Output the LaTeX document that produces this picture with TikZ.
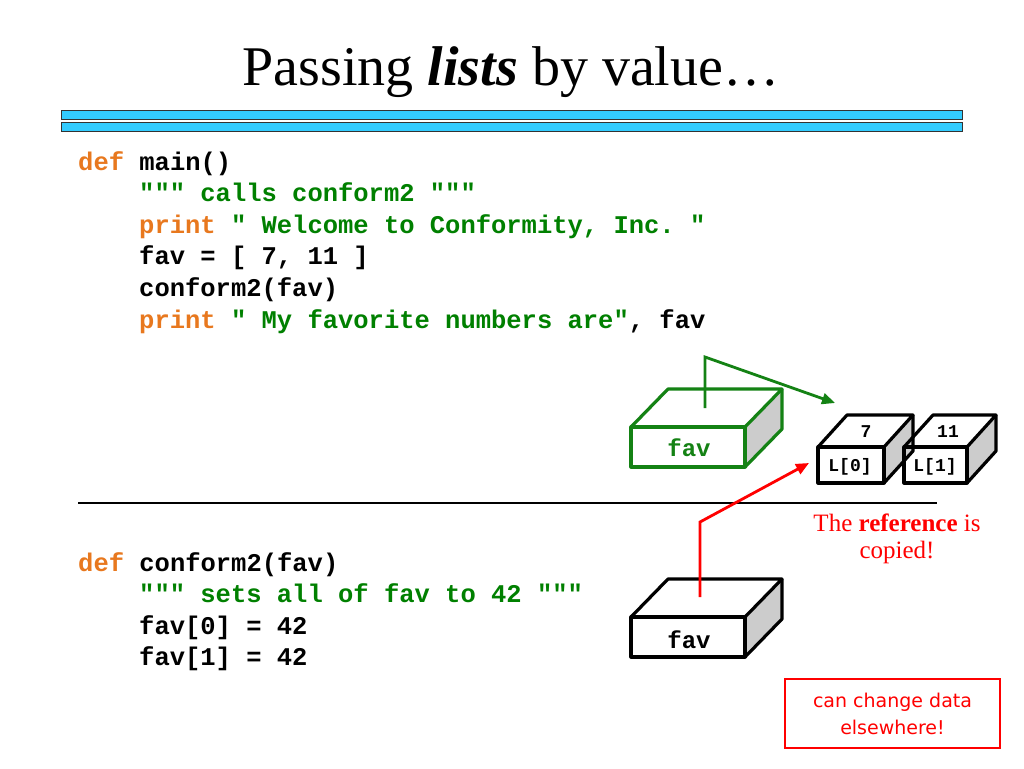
\documentclass[tikz,border=0pt]{standalone}
\usepackage{fontspec}
\setmainfont{Liberation Serif}
\setmonofont{Liberation Mono}
\newfontfamily\comicfont{DejaVu Sans}
\usetikzlibrary{arrows.meta,calc}
\definecolor{codeorange}{RGB}{232,120,30}
\definecolor{codegreen}{RGB}{0,128,0}
\definecolor{boxgreen}{RGB}{20,130,20}
\definecolor{barblue}{RGB}{51,204,255}
\definecolor{facegray}{RGB}{204,204,204}
\tikzset{
  codeline/.style={anchor=base west, inner sep=0pt, font=\ttfamily\bfseries\fontsize{25.5}{31.6}\selectfont},
  boxlabel/.style={inner sep=0pt, font=\ttfamily\bfseries\fontsize{24}{26}\selectfont},
  celllabel/.style={inner sep=0pt, font=\ttfamily\bfseries\fontsize{18}{20}\selectfont},
  edgeline/.style={line width=3.2pt, line join=round},
  bar/.style={fill=barblue, draw=black!80, line width=1pt},
  ptr/.style={line width=2.8pt, -{Triangle[length=13pt,width=11pt]}}
}
\newcommand{\cubebox}[7]{% x1 y1 x2 y2 dx dy color
  \fill[facegray] (#3,#2) -- ++(#5,#6) -- ++(0,#4-#2) -- (#3,#4) -- cycle;
  \draw[edgeline,draw=#7] (#1,#2) rectangle (#3,#4);
  \draw[edgeline,draw=#7] (#1,#2) -- ++(#5,#6) -- ($(#3,#2)+(#5,#6)$) -- (#3,#2);
  \draw[edgeline,draw=#7] ($(#3,#2)+(#5,#6)$) -- ++(0,#4-#2) -- (#3,#4);
}
\begin{document}
\begin{tikzpicture}[x=1pt,y=-1pt]
\useasboundingbox (0,0) rectangle (1024,768);
\fill[white] (0,0) rectangle (1024,768);

% title
\node[anchor=base, inner sep=0pt, font=\fontsize{56}{60}\selectfont] (title) at (511,85) {Passing \textbf{\textit{lists}} by value…};

% bars
\draw[bar] (61,110) rectangle (962,119);
\draw[bar] (61,122) rectangle (962,131);

% top code
\node[codeline] (l1) at (78,170) {\textcolor{codeorange}{def} main()};
\node[codeline] (l2) at (139,201.6) {\textcolor{codegreen}{""" calls conform2 """}};
\node[codeline] (l3) at (139,233.2) {\textcolor{codeorange}{print} \textcolor{codegreen}{" Welcome to Conformity, Inc. "}};
\node[codeline] (l4) at (139,264.8) {fav = [ 7, 11 ]};
\node[codeline] (l5) at (139,296.4) {conform2(fav)};
\node[codeline] (l6) at (139,328) {\textcolor{codeorange}{print} \textcolor{codegreen}{" My favorite numbers are"}, fav};

% separator
\draw[line width=2pt] (78,503) -- (937,503);

% bottom code
\node[codeline] (m1) at (78,571) {\textcolor{codeorange}{def} conform2(fav)};
\node[codeline] (m2) at (139,602.5) {\textcolor{codegreen}{""" sets all of fav to 42 """}};
\node[codeline] (m3) at (139,634) {fav[0] = 42};
\node[codeline] (m4) at (139,665) {fav[1] = 42};

% boxes
\cubebox{631}{427}{745}{467}{37}{-38}{boxgreen}
\node[boxlabel, text=boxgreen] (favtop) at (689,448) {fav};

\cubebox{631}{617}{745}{657}{37}{-38}{black}
\node[boxlabel] (favbot) at (689,640) {fav};

\cubebox{818}{447}{884}{483}{29}{-32}{black}
\node[celllabel] (c0) at (850,467) {L[0]};
\node[celllabel] (v0) at (866,432) {7};

\cubebox{904}{447}{967}{483}{29}{-32}{black}
\node[celllabel] (c1) at (935,467) {L[1]};
\node[celllabel] (v1) at (948,432) {11};

% pointer coordinates
\coordinate (gstart) at (705,408);
\coordinate (gbend) at (705,357);
\coordinate (gend) at (835,403);
\coordinate (rstart) at (700,597);
\coordinate (rbend) at (700,522);
\coordinate (rend) at (809,463);
\draw[ptr, draw=boxgreen] (gstart) -- (gbend) -- (gend);
\draw[ptr, draw=red] (rstart) -- (rbend) -- (rend);

% red annotation
\node[text=red, align=center, inner sep=0pt, font=\fontsize{25}{27}\selectfont] (note) at (897,539) {The \textbf{reference} is\\copied!};

\node[draw=red, line width=2.5pt, minimum width=215pt, minimum height=69pt, inner sep=0pt,
      text=red, align=center, font=\comicfont\fontsize{19}{27}\selectfont] (warn) at (892.5,713.5) {can change data\\elsewhere!};
\end{tikzpicture}
\end{document}
